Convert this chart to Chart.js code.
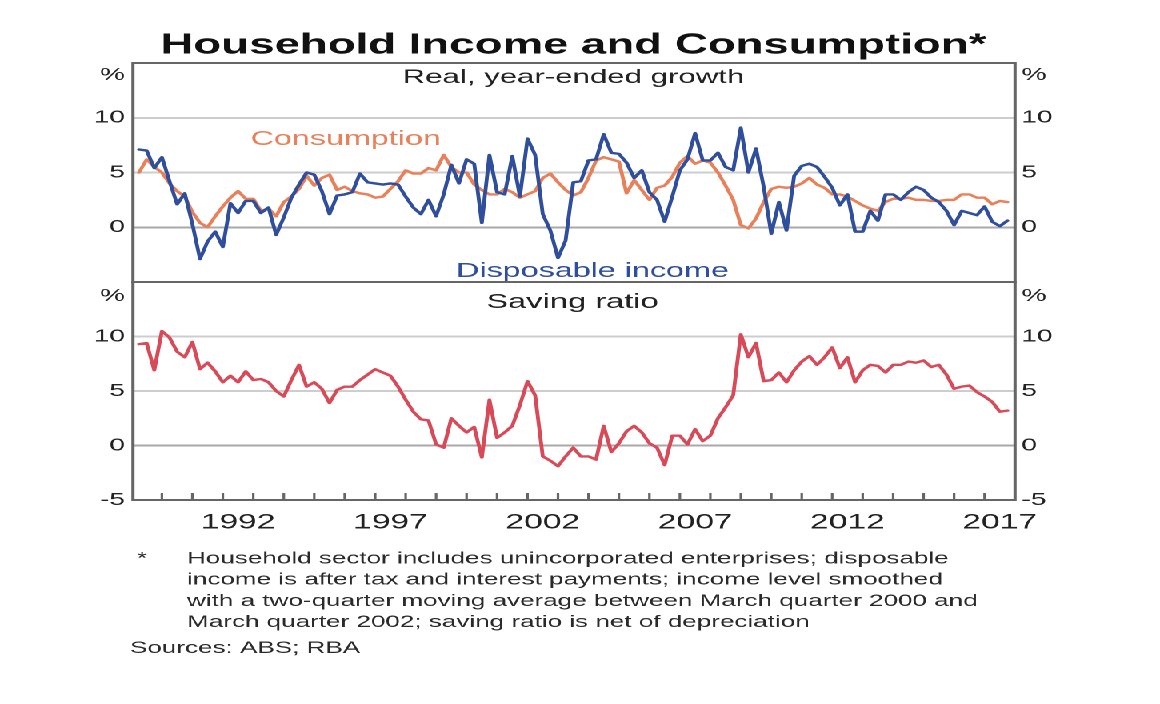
<!DOCTYPE html>
<html>
<head>
<meta charset="utf-8">
<script src="https://cdn.jsdelivr.net/npm/chart.js@4.4.1/dist/chart.umd.min.js"></script>
<style>
  html, body { margin:0; padding:0; background:#fff; overflow:hidden; }
  #wrap { position:absolute; left:0; top:0; width:725px; height:704px; transform:scaleX(1.6); transform-origin:0 0; }
  #wrap canvas { position:absolute; left:0; top:0; }
</style>
</head>
<body>
<div id="wrap">
  <canvas id="top" width="725" height="704"></canvas>
  <canvas id="bottom" width="725" height="704"></canvas>
</div>
<script>
// ---- Data: quarterly, March quarter 1989 to September quarter 2017 ----
const START_YEAR = 1989;      // first observation: March quarter 1989
const START_QUARTER = 1;

const disposableIncome = [
  7.1, 7.0, 5.4, 6.4, 4.2, 2.1, 3.1, 0.3, -2.9, -1.3,
  -0.4, -1.8, 2.2, 1.3, 2.4, 2.4, 1.3, 1.8, -0.7, 0.9,
  2.7, 3.9, 5.0, 4.8, 3.3, 1.2, 2.9, 3.0, 3.2, 4.9,
  4.1, 4.0, 3.9, 4.0, 3.9, 2.8, 1.8, 1.2, 2.5, 1.0,
  3.0, 5.7, 4.0, 6.2, 5.8, 0.4, 6.6, 3.2, 3.0, 6.5,
  2.8, 8.1, 6.6, 1.2, -0.3, -2.8, -1.2, 4.1, 4.2, 6.1,
  6.2, 8.5, 6.8, 6.7, 5.9, 4.5, 5.2, 3.2, 2.5, 0.5,
  2.8, 5.2, 6.2, 8.6, 6.1, 6.1, 6.8, 5.5, 5.2, 9.1,
  5.0, 7.2, 3.7, -0.6, 2.3, -0.3, 4.7, 5.6, 5.8, 5.5,
  4.6, 3.6, 2.0, 3.0, -0.4, -0.4, 1.5, 0.6, 3.0, 3.0,
  2.5, 3.2, 3.7, 3.4, 2.7, 2.3, 1.5, 0.2, 1.5, 1.3,
  1.1, 1.9, 0.5, 0.1, 0.6
];

const consumption = [
  5.0, 6.2, 5.5, 5.0, 4.0, 3.3, 2.8, 1.4, 0.4, 0.0,
  1.0, 1.9, 2.7, 3.3, 2.6, 2.6, 1.5, 1.7, 1.0, 2.3,
  2.8, 3.5, 4.7, 3.8, 4.5, 4.8, 3.4, 3.7, 3.3, 3.1,
  3.0, 2.7, 2.8, 3.5, 4.2, 5.2, 4.9, 4.9, 5.4, 5.2,
  6.6, 5.5, 5.0, 5.0, 3.9, 3.4, 3.0, 3.0, 3.5, 3.2,
  2.7, 3.0, 3.3, 4.5, 4.9, 4.1, 3.4, 2.9, 3.2, 4.5,
  6.1, 6.4, 6.2, 6.0, 3.1, 4.3, 3.4, 2.5, 3.6, 3.8,
  4.6, 5.9, 6.5, 5.8, 6.1, 5.9, 5.0, 3.8, 2.5, 0.2,
  -0.1, 0.8, 2.3, 3.5, 3.7, 3.6, 3.7, 4.0, 4.5, 3.9,
  3.6, 3.0, 3.0, 2.8, 2.4, 2.0, 1.7, 1.5, 2.3, 2.6,
  2.6, 2.7, 2.5, 2.5, 2.4, 2.4, 2.5, 2.5, 3.0, 3.0,
  2.7, 2.7, 2.1, 2.4, 2.3
];

const savingRatio = [
  9.3, 9.4, 6.9, 10.5, 9.9, 8.6, 8.1, 9.5, 7.0, 7.6,
  6.8, 5.8, 6.4, 5.8, 6.8, 6.0, 6.1, 5.8, 5.0, 4.5,
  6.0, 7.4, 5.4, 5.8, 5.2, 3.9, 5.1, 5.4, 5.4, 6.0,
  6.5, 7.0, 6.7, 6.4, 5.4, 4.2, 3.1, 2.4, 2.3, 0.1,
  -0.2, 2.5, 1.8, 1.2, 1.7, -1.1, 4.2, 0.7, 1.2, 1.8,
  3.7, 5.9, 4.6, -1.0, -1.4, -1.9, -1.0, -0.2, -1.0, -1.0,
  -1.3, 1.8, -0.6, 0.2, 1.3, 1.8, 1.2, 0.2, -0.2, -1.8,
  0.9, 0.9, 0.1, 1.5, 0.4, 0.9, 2.5, 3.5, 4.6, 10.2,
  8.1, 9.4, 5.9, 6.0, 6.7, 5.8, 6.9, 7.7, 8.2, 7.4,
  8.1, 9.0, 7.1, 8.1, 5.8, 6.9, 7.4, 7.3, 6.7, 7.4,
  7.4, 7.7, 7.6, 7.8, 7.2, 7.4, 6.5, 5.2, 5.4, 5.5,
  4.9, 4.5, 4.0, 3.1, 3.2
];

const xTickYears = [1992, 1997, 2002, 2007, 2012, 2017];
const topTickLabels = [0, 5, 10];
const bottomTickLabels = [-5, 0, 5, 10];
const footnoteLines = [
  'Household sector includes unincorporated enterprises; disposable',
  'income is after tax and interest payments; income level smoothed',
  'with a two-quarter moving average between March quarter 2000 and',
  'March quarter 2002; saving ratio is net of depreciation'
];
const sourcesText = 'Sources: ABS; RBA';

// ---- Derived ----
const quarterX = savingRatio.map((_, i) => START_YEAR + (START_QUARTER + i) * 0.25);
const toPoints = arr => arr.map((v, i) => ({ x: quarterX[i], y: v }));

const FONT = '"Liberation Sans", Arial, Helvetica, sans-serif';
const ORANGE = '#e8805a';
const BLUE = '#2f4e9c';
const RED = '#d84a58';
const FRAME = '#666666';
const X_MIN = 1989.05, X_MAX = 2018;
const LEFT_W = 83.1, RIGHT_W = 90.6;

function yAxis(position, shown) {
  return {
    type: 'linear', position, min: -5, max: 15, display: true,
    afterFit: s => { s.width = position === 'left' ? LEFT_W : RIGHT_W; },
    afterBuildTicks: s => { s.ticks = [-5, 0, 5, 10, 15].map(v => ({ value: v })); },
    ticks: {
      padding: position === 'left' ? 5 : 4,
      color: '#222222',
      font: { family: FONT, size: 17.5 },
      callback: v => shown.includes(v) ? String(v) : ''
    },
    grid: {
      drawTicks: false,
      drawOnChartArea: position === 'left',
      lineWidth: 2,
      color: c => (c.tick && (c.tick.value === 15 || c.tick.value === -5)) ? 'rgba(0,0,0,0)'
                 : (c.tick && c.tick.value === 0 ? '#a8a8a8' : '#cdcdcd')
    },
    border: { display: false }
  };
}

const framePlugin = {
  id: 'frame',
  afterDraw(chart, args, opts) {
    const { ctx, chartArea: a } = chart;
    ctx.save();
    ctx.strokeStyle = FRAME;
    ctx.lineWidth = 2;
    ctx.strokeRect(a.left, a.top, a.right - a.left, a.bottom - a.top);
    if (opts.yearTicks) {
      const xs = chart.scales.x;
      ctx.lineWidth = 1.6;
      for (let yr = Math.ceil(X_MIN); yr < X_MAX; yr++) {
        const px = xs.getPixelForValue(yr);
        ctx.beginPath();
        ctx.moveTo(px, a.bottom);
        ctx.lineTo(px, a.bottom - 7);
        ctx.stroke();
      }
    }
    ctx.restore();
  }
};

const textPlugin = {
  id: 'texts',
  afterDraw(chart, args, opts) {
    const { ctx } = chart;
    ctx.save();
    ctx.textBaseline = 'alphabetic';
    (opts.items || []).forEach(it => {
      ctx.font = (it.bold ? 'bold ' : '') + it.size + 'px ' + FONT;
      ctx.fillStyle = it.color;
      ctx.textAlign = it.align || 'center';
      ctx.fillText(it.t, it.x, it.y);
    });
    ctx.restore();
  }
};

const lineDs = (label, data, color) => ({
  label, data: toPoints(data), borderColor: color, backgroundColor: color,
  borderWidth: 2.4, pointRadius: 0, tension: 0, fill: false,
  borderJoinStyle: 'round', borderCapStyle: 'round', yAxisID: 'y'
});

new Chart(document.getElementById('top'), {
  type: 'line',
  data: { datasets: [
    lineDs('Disposable income', disposableIncome, BLUE),
    lineDs('Consumption', consumption, ORANGE)
  ] },
  options: {
    responsive: false, animation: false, devicePixelRatio: 2,
    layout: { padding: { top: 63, bottom: 422, left: 0, right: 0 } },
    plugins: {
      legend: { display: false }, tooltip: { enabled: false },
      frame: { yearTicks: false },
      texts: { items: [
        { t: 'Household Income and Consumption*', x: 358.4, y: 53.5, size: 28.5, bold: true, color: '#111111' },
        { t: 'Real, year-ended growth', x: 358.4, y: 83, size: 19.5, color: '#222222' },
        { t: 'Consumption', x: 216.1, y: 145, size: 20.2, color: ORANGE },
        { t: 'Disposable income', x: 370.3, y: 277, size: 20.2, color: BLUE },
        { t: '%', x: 78.1, y: 80, size: 17.5, color: '#222222', align: 'right' },
        { t: '%', x: 638.5, y: 80, size: 17.5, color: '#222222', align: 'left' }
      ] }
    },
    scales: {
      x: { type: 'linear', min: X_MIN, max: X_MAX, display: false },
      y: yAxis('left', topTickLabels),
      y2: yAxis('right', topTickLabels)
    }
  },
  plugins: [framePlugin, textPlugin]
});

const footItems = footnoteLines.map((t, i) => ({ t, x: 116.9, y: 563.5 + i * 21.2, size: 16.3, color: '#2a2a2a', align: 'left' }));
footItems.push({ t: '*', x: 85.6, y: 563.5, size: 16.3, color: '#2a2a2a', align: 'left' });
footItems.push({ t: sourcesText, x: 81.25, y: 653, size: 16.3, color: '#2a2a2a', align: 'left' });

new Chart(document.getElementById('bottom'), {
  type: 'line',
  data: { datasets: [ lineDs('Saving ratio', savingRatio, RED) ] },
  options: {
    responsive: false, animation: false, devicePixelRatio: 2,
    layout: { padding: { top: 282, bottom: 164, left: 0, right: 0 } },
    plugins: {
      legend: { display: false }, tooltip: { enabled: false },
      frame: { yearTicks: true },
      texts: { items: [
        { t: 'Saving ratio', x: 357.8, y: 308, size: 20.4, color: '#222222' },
        { t: '%', x: 78.1, y: 301, size: 17.5, color: '#222222', align: 'right' },
        { t: '%', x: 638.5, y: 301, size: 17.5, color: '#222222', align: 'left' }
      ].concat(footItems) }
    },
    scales: {
      x: {
        type: 'linear', min: X_MIN, max: X_MAX, position: 'bottom',
        afterFit: s => { s.height = 40; },
        afterBuildTicks: s => { s.ticks = xTickYears.map(y => ({ value: y + 0.5 })); },
        ticks: {
          padding: 10, maxRotation: 0, autoSkip: false, color: '#222222',
          font: { family: FONT, size: 21 },
          callback: v => String(Math.floor(v))
        },
        grid: { display: false, drawTicks: false },
        border: { display: false }
      },
      y: yAxis('left', bottomTickLabels),
      y2: yAxis('right', bottomTickLabels)
    }
  },
  plugins: [framePlugin, textPlugin]
});
</script>
</body>
</html>
